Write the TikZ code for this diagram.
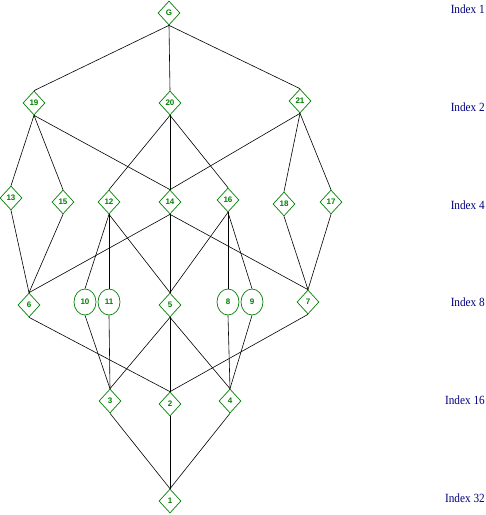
\documentclass[tikz,border=0pt]{standalone}
\usepackage{fontspec}
\setmainfont{Liberation Serif}
\newfontfamily\numfont{Liberation Sans}
\newfontfamily\idxfont[FakeStretch=0.9]{Liberation Serif}
\usetikzlibrary{shapes.geometric}
\definecolor{nodegreen}{RGB}{0,128,0}
\definecolor{idxblue}{RGB}{0,0,128}
\begin{document}
\begin{tikzpicture}[x=1pt,y=-1pt,
  dnode/.style={shape=diamond,draw=nodegreen,text=nodegreen,line width=0.7pt,inner sep=0pt,minimum width=22pt,minimum height=24pt,font=\numfont\bfseries\fontsize{8}{9}\selectfont},
  enode/.style={shape=ellipse,draw=nodegreen,text=nodegreen,line width=0.7pt,inner sep=0pt,minimum width=22pt,minimum height=26pt,font=\numfont\bfseries\fontsize{8}{9}\selectfont},
  idx/.style={anchor=east,text=idxblue,inner sep=0pt,font=\idxfont\fontsize{12.5}{14}\selectfont},
  edge/.style={draw=black,line width=0.6pt}]
\useasboundingbox (0,0) rectangle (486,515);
% nodes
\node[dnode] (G) at (169,13) {G};
\node[dnode] (n19) at (34,103) {19};
\node[dnode] (n20) at (170,103) {20};
\node[dnode] (n21) at (300,101) {21};
\node[dnode] (n13) at (11,198) {13};
\node[dnode] (n15) at (63,202) {15};
\node[dnode] (n12) at (109,202) {12};
\node[dnode] (n14) at (170,202) {14};
\node[dnode] (n16) at (228,200) {16};
\node[dnode] (n18) at (284,204) {18};
\node[dnode] (n17) at (331,202) {17};
\node[dnode] (n6) at (29,305) {6};
\node[enode] (n10) at (85,302) {10};
\node[enode] (n11) at (109,302) {11};
\node[dnode] (n5) at (170,305) {5};
\node[enode] (n8) at (228,302) {8};
\node[enode] (n9) at (252,302) {9};
\node[dnode] (n7) at (308,302) {7};
\node[dnode] (n3) at (110,401) {3};
\node[dnode] (n2) at (170,404) {2};
\node[dnode] (n4) at (230,401) {4};
\node[dnode] (n1) at (170,501) {1};
% index labels
\node[idx] (i1) at (485,9) {Index 1};
\node[idx] (i2) at (485,107) {Index 2};
\node[idx] (i4) at (485,205) {Index 4};
\node[idx] (i8) at (485,302) {Index 8};
\node[idx] (i16) at (485,400) {Index 16};
\node[idx] (i32) at (485,498) {Index 32};
% edges
\foreach \a/\b in {G/n19,G/n20,G/n21,
  n19/n13,n19/n15,n19/n14,n20/n12,n20/n14,n20/n16,n21/n14,n21/n18,n21/n17,
  n13/n6,n15/n6,n14/n6,n12/n10,n12/n11,n12/n5,n14/n5,n14/n7,n16/n5,n16/n8,n16/n9,n18/n7,n17/n7,
  n6/n2,n10/n3,n11/n3,n5/n3,n5/n2,n5/n4,n8/n4,n9/n4,n7/n2,
  n3/n1,n2/n1,n4/n1}
  \draw[edge] (\a.south) -- (\b.north);
\end{tikzpicture}
\end{document}
